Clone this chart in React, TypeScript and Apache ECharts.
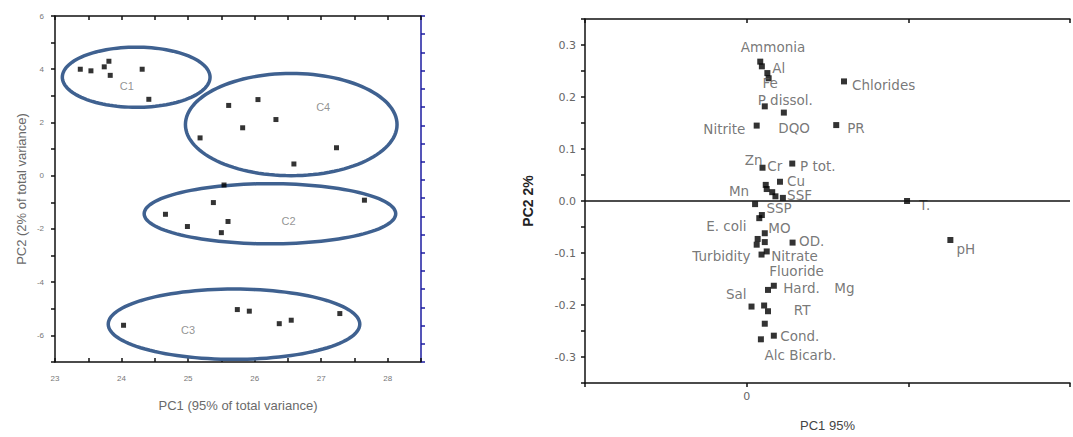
import React, { useEffect, useRef } from "react";
import * as echarts from "echarts";

// ---- Left panel: PCA scores ----
const scoreX = [23.38, 23.54, 23.74, 23.81, 23.83, 24.31, 24.41, 25.61, 26.05, 26.32, 25.82, 25.18, 27.23, 26.59, 25.54, 25.38, 27.65, 24.66, 24.99, 25.6, 25.5, 24.03, 25.74, 25.92, 26.37, 26.55, 27.28];
const scoreY = [4.0, 3.94, 4.09, 4.3, 3.77, 4.0, 2.87, 2.64, 2.86, 2.11, 1.8, 1.42, 1.05, 0.44, -0.35, -1.01, -0.92, -1.45, -1.91, -1.72, -2.14, -5.62, -5.03, -5.09, -5.56, -5.43, -5.18];

const clusterNames = ["C1", "C4", "C2", "C3"];
const ellipseCX = [24.22, 26.55, 26.23, 25.69];
const ellipseCY = [3.7, 1.92, -1.43, -5.58];
const ellipseRX = [1.11, 1.59, 1.89, 1.89];
const ellipseRY = [1.13, 1.92, 1.13, 1.32];
const clusterLabelX = [24.08, 27.03, 26.51, 25.0];
const clusterLabelY = [3.36, 2.58, -1.72, -5.79];

const leftXTicks = [23, 24, 25, 26, 27, 28];
const leftYTicks = [-6, -4, -2, 0, 2, 4, 6];

// ---- Right panel: PCA loadings ----
const loadX = [0.042, 0.047, 0.064, 0.068, 0.056, 0.031, 0.115, 0.301, 0.277, 0.049, 0.141, 0.103, 0.059, 0.062, 0.079, 0.089, 0.112, 0.026, 0.047, 0.039, 0.056, 0.034, 0.031, 0.056, 0.142, 0.062, 0.046, 0.084, 0.066, 0.015, 0.054, 0.066, 0.056, 0.084, 0.044, 0.496, 0.63];
const loadY = [0.268, 0.259, 0.246, 0.236, 0.182, 0.145, 0.17, 0.23, 0.146, 0.064, 0.072, 0.037, 0.031, 0.023, 0.017, 0.009, 0.006, -0.006, -0.027, -0.033, -0.062, -0.073, -0.084, -0.079, -0.08, -0.097, -0.103, -0.163, -0.171, -0.203, -0.201, -0.212, -0.236, -0.259, -0.266, 0.0, -0.075];

const varNames = ["Ammonia", "Al", "Fe", "P dissol.", "Chlorides", "Nitrite", "DQO", "PR", "Zn", "Cr", "P tot.", "Cu", "Mn", "SSF", "SSP", "E. coli", "MO", "OD.", "Turbidity", "Nitrate", "Fluoride", "Hard.", "Mg", "Sal", "RT", "Cond.", "Alc Bicarb.", "T.", "pH"];
const varLabelX = [-0.018, 0.079, 0.049, 0.034, 0.326, -0.134, 0.098, 0.311, -0.006, 0.064, 0.165, 0.125, -0.055, 0.125, 0.061, -0.125, 0.067, 0.162, -0.168, 0.076, 0.07, 0.113, 0.271, -0.064, 0.146, 0.104, 0.055, 0.534, 0.649];
const varLabelY = [0.296, 0.256, 0.226, 0.194, 0.224, 0.138, 0.141, 0.14, 0.078, 0.067, 0.067, 0.039, 0.019, 0.011, -0.014, -0.048, -0.052, -0.077, -0.105, -0.105, -0.134, -0.168, -0.168, -0.178, -0.21, -0.26, -0.296, -0.008, -0.092];

const rightXTicks = [0];

const FONT = "Liberation Sans, Arial, sans-serif";
const WIDE = "DejaVu Sans, Verdana, sans-serif";

export default function App() {
  const ref = useRef<HTMLDivElement>(null);

  useEffect(() => {
    if (!ref.current) return;
    const chart = echarts.init(ref.current, undefined, { renderer: "svg" });

    const ellipseData = clusterNames.map((n, i) => ({
      name: n,
      value: [ellipseCX[i], ellipseCY[i], ellipseRX[i], ellipseRY[i]],
    }));

    const option: any = {
      animation: false,
      backgroundColor: "#ffffff",
      textStyle: { fontFamily: FONT },
      grid: [
        { left: 55, top: 16, width: 366, height: 346 },
        { left: 585, top: 19, width: 492, height: 369 },
      ],
      xAxis: [
        {
          gridIndex: 0,
          type: "value",
          position: "bottom",
          min: 23,
          max: 28.5,
          interval: 0.5,
          name: "PC1 (95% of total variance)",
          nameLocation: "middle",
          nameGap: 37,
          nameTextStyle: { color: "#6a6a6a", fontSize: 13, fontFamily: FONT },
          axisLine: { show: true, onZero: false, lineStyle: { color: "#111", width: 1.5 } },
          axisTick: { show: true, inside: true, length: 4, lineStyle: { color: "#111", width: 1.5 } },
          axisLabel: {
            color: "#777",
            fontSize: 8,
            margin: 12,
            formatter: (v: number) => (leftXTicks.includes(Math.round(v * 100) / 100) ? String(Math.round(v)) : ""),
          },
          splitLine: { show: false },
        },
        {
          gridIndex: 0,
          type: "value",
          position: "top",
          min: 23,
          max: 28.5,
          interval: 0.5,
          axisLine: { show: true, onZero: false, lineStyle: { color: "#111", width: 1.5 } },
          axisTick: { show: true, inside: true, length: 4, lineStyle: { color: "#111", width: 1.5 } },
          axisLabel: { show: false },
          splitLine: { show: false },
        },
        {
          gridIndex: 1,
          type: "value",
          position: "bottom",
          min: -0.5,
          max: 1,
          interval: 0.5,
          name: "PC1 95%",
          nameLocation: "middle",
          nameGap: 36,
          nameTextStyle: { color: "#444", fontSize: 13, fontFamily: FONT },
          axisLine: { show: true, onZero: false, lineStyle: { color: "#111", width: 1.5 } },
          axisTick: { show: true, inside: false, length: 4, lineStyle: { color: "#111", width: 1.5 } },
          axisLabel: {
            color: "#666",
            fontSize: 11,
            fontFamily: WIDE,
            margin: 8,
            formatter: (v: number) => (rightXTicks.includes(Math.round(v * 100) / 100) ? "0" : ""),
          },
          splitLine: { show: false },
        },
        {
          gridIndex: 1,
          type: "value",
          position: "top",
          min: -0.5,
          max: 1,
          interval: 0.5,
          axisLine: { show: true, onZero: false, lineStyle: { color: "#111", width: 1.5 } },
          axisTick: { show: true, inside: true, length: 4, lineStyle: { color: "#111", width: 1.5 } },
          axisLabel: { show: false },
          splitLine: { show: false },
        },
      ],
      yAxis: [
        {
          gridIndex: 0,
          type: "value",
          position: "left",
          min: -7,
          max: 6,
          interval: 1,
          name: "PC2 (2% of total variance)",
          nameLocation: "middle",
          nameGap: 27,
          nameTextStyle: { color: "#6a6a6a", fontSize: 13, fontFamily: FONT },
          axisLine: { show: true, onZero: false, lineStyle: { color: "#111", width: 1.5 } },
          axisTick: { show: true, inside: false, length: 4, lineStyle: { color: "#111", width: 1.5 } },
          axisLabel: {
            color: "#777",
            fontSize: 8,
            margin: 11,
            formatter: (v: number) => (leftYTicks.includes(Math.round(v)) ? String(Math.round(v)) : ""),
          },
          splitLine: { show: false },
        },
        {
          gridIndex: 0,
          type: "value",
          position: "right",
          min: 0,
          max: 19,
          interval: 1,
          axisLine: { show: true, onZero: false, lineStyle: { color: "#1c1ca0", width: 1.5 } },
          axisTick: { show: true, inside: false, length: 4, lineStyle: { color: "#1c1ca0", width: 1.5 } },
          axisLabel: { show: false },
          splitLine: { show: false },
        },
        {
          gridIndex: 1,
          type: "value",
          position: "left",
          min: -0.35,
          max: 0.35,
          interval: 0.05,
          name: "PC2 2%",
          nameLocation: "middle",
          nameGap: 50,
          nameTextStyle: { color: "#222", fontSize: 14, fontWeight: "bold", fontFamily: FONT },
          axisLine: { show: true, onZero: false, lineStyle: { color: "#111", width: 1.5 } },
          axisTick: { show: true, inside: false, length: 4, lineStyle: { color: "#111", width: 1.5 } },
          axisLabel: {
            color: "#666",
            fontSize: 11,
            fontFamily: WIDE,
            margin: 9,
            formatter: (v: number) => {
              const r = Math.round(v * 100);
              if (r % 10 !== 0) return "";
              return (r / 100).toFixed(1);
            },
          },
          splitLine: { show: false },
        },
      ],
      series: [
        {
          type: "custom",
          xAxisIndex: 0,
          yAxisIndex: 0,
          data: ellipseData,
          encode: { x: 0, y: 1 },
          renderItem: (params: any, api: any) => {
            const cx = api.value(0);
            const cy = api.value(1);
            const rx = api.value(2);
            const ry = api.value(3);
            const pts: number[][] = [];
            for (let k = 0; k < 120; k++) {
              const a = (k / 120) * Math.PI * 2;
              pts.push(api.coord([cx + rx * Math.cos(a), cy + ry * Math.sin(a)]));
            }
            return {
              type: "polygon",
              shape: { points: pts },
              style: { fill: "none", stroke: "#3f6190", lineWidth: 3.5 },
            };
          },
          z: 2,
        },
        {
          type: "scatter",
          xAxisIndex: 0,
          yAxisIndex: 0,
          symbol: "rect",
          symbolSize: 5,
          itemStyle: { color: "#000" },
          data: scoreX.map((x, i) => [x, scoreY[i]]),
          z: 3,
        },
        {
          type: "scatter",
          xAxisIndex: 0,
          yAxisIndex: 0,
          symbolSize: 0,
          itemStyle: { color: "#777" },
          data: clusterNames.map((n, i) => ({ name: n, value: [clusterLabelX[i], clusterLabelY[i]] })),
          label: {
            show: true,
            position: "inside",
            formatter: "{b}",
            color: "#777",
            textBorderWidth: 0,
            fontSize: 11,
            fontFamily: FONT,
          },
          z: 4,
        },
        {
          type: "scatter",
          xAxisIndex: 2,
          yAxisIndex: 2,
          symbol: "rect",
          symbolSize: 6,
          itemStyle: { color: "#000" },
          data: loadX.map((x, i) => [x, loadY[i]]),
          markLine: {
            silent: true,
            symbol: ["none", "none"],
            label: { show: false },
            lineStyle: { color: "#111", width: 1.5, type: "solid" },
            data: [{ yAxis: 0 }],
          },
          z: 3,
        },
        {
          type: "scatter",
          xAxisIndex: 2,
          yAxisIndex: 2,
          symbolSize: 0,
          itemStyle: { color: "#555" },
          data: varNames.map((n, i) => ({ name: n, value: [varLabelX[i], varLabelY[i]] })),
          label: {
            show: true,
            position: [0, 0],
            align: "left",
            verticalAlign: "middle",
            formatter: "{b}",
            color: "#555",
            textBorderWidth: 0,
            fontSize: 13.5,
            fontFamily: WIDE,
          },
          z: 4,
        },
      ],
    };

    chart.setOption(option);
    return () => {
      chart.dispose();
    };
  }, []);

  return (
    <div
      ref={ref}
      style={{ position: "absolute", left: 0, top: 0, width: 1073, height: 437, background: "#fff" }}
    />
  );
}
